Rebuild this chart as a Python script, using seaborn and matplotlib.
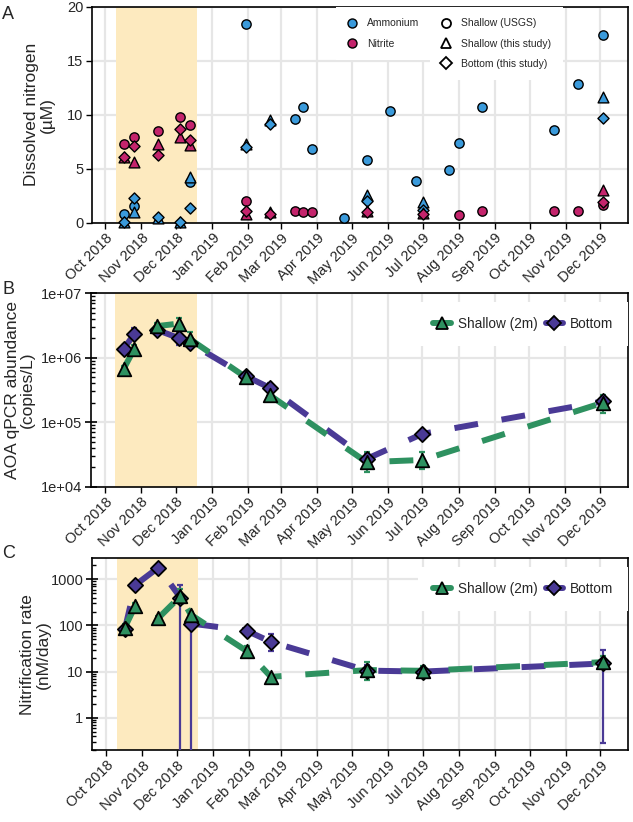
import numpy as np
import pandas as pd
import matplotlib
matplotlib.use("Agg")
import matplotlib.pyplot as plt
import matplotlib.dates as mdates
from matplotlib.lines import Line2D
from matplotlib.ticker import FixedLocator, LogLocator, FuncFormatter, NullFormatter
import seaborn as sns

nan = np.nan

# ---- Panel A: dissolved nitrogen ----
usgs_dates = ["2018-10-17", "2018-10-26", "2018-11-15", "2018-12-04", "2018-12-13",
              "2019-01-30", "2019-03-13", "2019-03-20", "2019-03-28", "2019-04-24",
              "2019-05-14", "2019-06-03", "2019-06-25", "2019-07-24", "2019-08-01",
              "2019-08-21", "2019-10-22", "2019-11-12", "2019-12-03"]
usgs_nh4 = [0.8, 1.5, nan, nan, 3.8, 18.4, 9.6, 10.7, 6.8, 0.4,
            5.8, 10.3, 3.9, 4.9, 7.4, 10.7, 8.6, 12.8, 17.4]
usgs_no2 = [7.3, 7.9, 8.5, 9.8, 9.0, 2.0, 1.05, 1.0, 1.0, nan,
            nan, nan, nan, nan, 0.7, 1.1, 1.1, 1.1, 1.6]

study_dates = ["2018-10-17", "2018-10-26", "2018-11-15", "2018-12-04", "2018-12-13",
               "2019-01-30", "2019-02-20", "2019-05-14", "2019-07-01", "2019-12-03"]
nh4_shallow = [0.05, 1.0, 0.4, 0.05, 4.2, 7.3, 9.5, 2.6, 1.9, 11.6]
nh4_bottom = [0.05, 2.3, 0.5, 0.1, 1.4, 7.0, 9.1, 2.0, 1.2, 9.7]
no2_shallow = [6.1, 5.6, 7.3, 7.9, 7.2, 0.85, 1.0, 1.1, 0.9, 3.0]
no2_bottom = [6.1, 7.1, 6.3, 8.7, 7.7, 1.1, 0.8, 1.0, 0.8, 1.9]

# ---- Panel B: AOA qPCR abundance (copies/L) ----
aoa_shallow = [6.7e5, 1.35e6, 3.1e6, 3.4e6, 1.95e6, 5.0e5, 2.6e5, 2.4e4, 2.6e4, 2.0e5]
aoa_shallow_lo = [5.8e5, 1.15e6, 2.7e6, 2.8e6, 1.5e6, 4.3e5, 2.3e5, 1.7e4, 1.9e4, 1.4e5]
aoa_shallow_hi = [7.5e5, 1.55e6, 3.5e6, 4.1e6, 2.5e6, 5.7e5, 2.9e5, 3.4e4, 3.4e4, 2.6e5]
aoa_bottom = [1.37e6, 2.3e6, 2.7e6, 2.0e6, 1.7e6, 5.2e5, 3.4e5, 2.7e4, 6.6e4, 2.1e5]
aoa_bottom_lo = [1.2e6, 1.9e6, 2.4e6, 1.6e6, 1.4e6, 4.6e5, 2.8e5, 2.2e4, 6.0e4, 1.8e5]
aoa_bottom_hi = [1.55e6, 2.9e6, 3.0e6, 2.5e6, 2.0e6, 5.8e5, 4.1e5, 3.3e4, 7.2e4, 2.4e5]

# ---- Panel C: nitrification rate (nM/day) ----
nit_shallow = [90, 265, 145, 430, 170, 28, 7.7, 10.8, 10.4, 16]
nit_shallow_lo = [75, 220, 130, 300, 140, 22, 7.0, 6.6, 8.5, 12]
nit_shallow_hi = [105, 310, 160, 620, 200, 35, 8.5, 16.4, 13, 22]
nit_bottom = [82, 750, 1800, 400, 110, 77, 44, 10.5, 10.0, 15]
nit_bottom_lo = [70, 700, 1650, 0.01, 0.01, 68, 28, 8, 8, 0.29]
nit_bottom_hi = [95, 800, 1950, 760, 200, 87, 65, 14, 12, 29]

shade_start, shade_end = "2018-10-10", "2018-12-19"
x_min, x_max = "2018-09-19", "2019-12-25"

c_nh4 = "#3A9ADB"
c_no2 = "#C4246C"
c_shallow = "#2E9160"
c_bottom = "#4A3A96"
c_shade = "#FDEABF"

sns.set_style("whitegrid")
plt.rcParams["font.family"] = ["Liberation Sans", "DejaVu Sans"]
plt.rcParams["xtick.labelsize"] = 10.5
plt.rcParams["ytick.labelsize"] = 10.5

usgs_t = pd.to_datetime(usgs_dates)
study_t = pd.to_datetime(study_dates)

fig = plt.figure(figsize=(6.33, 8.22), dpi=100)
W, H = 633.0, 822.0


def make_ax(left, right, top, bottom):
    return fig.add_axes([left / W, 1 - bottom / H, (right - left) / W, (bottom - top) / H])


def style_ax(ax):
    ax.set_axisbelow(True)
    ax.grid(True, which="major", color="#E6E6E6", lw=1.6)
    ax.grid(False, which="minor")
    for sp in ax.spines.values():
        sp.set_color("black")
        sp.set_linewidth(1.2)
        sp.set_visible(True)
    ax.axvspan(pd.Timestamp(shade_start), pd.Timestamp(shade_end), color=c_shade, lw=0, zorder=1)
    ax.set_xlim(pd.Timestamp(x_min), pd.Timestamp(x_max))
    ax.xaxis.set_major_locator(mdates.MonthLocator(bymonthday=1))
    ax.xaxis.set_major_formatter(mdates.DateFormatter("%b %Y"))
    ax.tick_params(axis="both", which="major", direction="out", length=4, width=1, color="black",
                   bottom=True, left=True, pad=2)
    for lab in ax.get_xticklabels():
        lab.set_rotation(45)
        lab.set_ha("right")
        lab.set_rotation_mode("anchor")


# ---------------- A ----------------
axA = make_ax(91.5, 628.3, 6.7, 222.7)
style_ax(axA)
pt_kw = dict(edgecolor="black", linewidth=1.0, legend=False, ax=axA, zorder=3, clip_on=False)
sns.scatterplot(x=usgs_t, y=usgs_nh4, color=c_nh4, marker="o", s=45, **pt_kw)
sns.scatterplot(x=study_t, y=nh4_shallow, color=c_nh4, marker="^", s=60, **pt_kw)
sns.scatterplot(x=study_t, y=nh4_bottom, color=c_nh4, marker="D", s=32, **pt_kw)
sns.scatterplot(x=usgs_t, y=usgs_no2, color=c_no2, marker="o", s=45, **pt_kw)
sns.scatterplot(x=study_t, y=no2_shallow, color=c_no2, marker="^", s=60, **pt_kw)
sns.scatterplot(x=study_t, y=no2_bottom, color=c_no2, marker="D", s=32, **pt_kw)
axA.set_ylim(0, 20)
axA.set_yticks([0, 5, 10, 15, 20])
axA.set_xlabel("")
axA.set_ylabel("Dissolved nitrogen\n(\u00b5M)", fontsize=12.5, linespacing=1.05)
axA.yaxis.set_label_coords(-0.068, 0.5)

col_handles = [Line2D([], [], ls="none", marker="o", ms=6.5, mfc=c_nh4, mec="black", mew=1.0),
               Line2D([], [], ls="none", marker="o", ms=6.5, mfc=c_no2, mec="black", mew=1.0)]
leg1 = axA.legend(col_handles, ["Ammonium", "Nitrite"], loc="upper left",
                  bbox_to_anchor=(0.455, 1.0), frameon=True, facecolor="white", edgecolor="none",
                  framealpha=1, fancybox=False, fontsize=7.5, handlelength=1.0,
                  handletextpad=0.9, labelspacing=1.0, borderpad=1.1, borderaxespad=0)
axA.add_artist(leg1)
shp_handles = [Line2D([], [], ls="none", marker="o", ms=6.5, mfc="white", mec="black", mew=1.3),
               Line2D([], [], ls="none", marker="^", ms=7.5, mfc="white", mec="black", mew=1.3),
               Line2D([], [], ls="none", marker="D", ms=5.8, mfc="white", mec="black", mew=1.3)]
axA.legend(shp_handles, ["Shallow (USGS)", "Shallow (this study)", "Bottom (this study)"],
           loc="upper left", bbox_to_anchor=(0.63, 1.0), frameon=True, facecolor="white",
           edgecolor="none", framealpha=1, fancybox=False, fontsize=7.5, handlelength=1.0,
           handletextpad=0.9, labelspacing=1.0, borderpad=1.1, borderaxespad=0)


def rate_panel(ax, sh, sh_lo, sh_hi, bo, bo_lo, bo_hi):
    dash = (0, (4, 4))
    sns.lineplot(x=study_t, y=bo, color=c_bottom, linewidth=4.3, linestyle=dash,
                 legend=False, errorbar=None, ax=ax, zorder=2)
    sns.lineplot(x=study_t, y=sh, color=c_shallow, linewidth=4.3, linestyle=dash,
                 legend=False, errorbar=None, ax=ax, zorder=2)
    bo, bo_lo, bo_hi = map(np.asarray, (bo, bo_lo, bo_hi))
    sh, sh_lo, sh_hi = map(np.asarray, (sh, sh_lo, sh_hi))
    ax.errorbar(study_t, bo, yerr=[bo - bo_lo, bo_hi - bo], fmt="none", ecolor=c_bottom,
                elinewidth=1.6, capsize=2, capthick=1.6, zorder=3)
    ax.errorbar(study_t, sh, yerr=[sh - sh_lo, sh_hi - sh], fmt="none", ecolor=c_shallow,
                elinewidth=1.6, capsize=2, capthick=1.6, zorder=3)
    sns.scatterplot(x=study_t, y=bo, color=c_bottom, marker="D", s=60, edgecolor="black",
                    linewidth=1.3, legend=False, ax=ax, zorder=4)
    sns.scatterplot(x=study_t, y=sh, color=c_shallow, marker="^", s=95, edgecolor="black",
                    linewidth=1.3, legend=False, ax=ax, zorder=5)
    ax.set_xlabel("")
    ax.set_yscale("log")
    ax.yaxis.set_minor_locator(LogLocator(base=10, subs=np.arange(2, 10)))
    ax.yaxis.set_minor_formatter(NullFormatter())
    ax.tick_params(axis="y", which="minor", direction="in", length=3, width=1, color="black", left=True)
    ax.tick_params(axis="y", which="major", direction="inout", length=9, width=1.2, left=True)
    handles = [Line2D([], [], color=c_shallow, lw=4.3, marker="^", ms=9, mfc=c_shallow, mec="black", mew=1.3),
               Line2D([], [], color=c_bottom, lw=4.3, marker="D", ms=7, mfc=c_bottom, mec="black", mew=1.3)]
    ax.legend(handles, ["Shallow (2m)", "Bottom"], loc="upper right", bbox_to_anchor=(1.0, 0.955),
              ncol=2, frameon=True, facecolor="white", edgecolor="none", framealpha=1,
              fancybox=False, fontsize=9.8, handlelength=1.3, handletextpad=0.5,
              columnspacing=0.6, borderpad=1.1, borderaxespad=0)


# ---------------- B ----------------
axB = make_ax(91.0, 628.3, 293.3, 486.7)
style_ax(axB)
rate_panel(axB, aoa_shallow, aoa_shallow_lo, aoa_shallow_hi, aoa_bottom, aoa_bottom_lo, aoa_bottom_hi)
axB.set_ylim(1e4, 1e7)
axB.yaxis.set_major_locator(FixedLocator([1e4, 1e5, 1e6, 1e7]))
axB.yaxis.set_major_formatter(FuncFormatter(lambda v, _: f"{v:.0e}"))
axB.set_ylabel("AOA qPCR abundance\n(copies/L)", fontsize=12.5, linespacing=1.05)
axB.yaxis.set_label_coords(-0.104, 0.5)

# ---------------- C ----------------
axC = make_ax(92.3, 628.3, 558.3, 750.0)
style_ax(axC)
rate_panel(axC, nit_shallow, nit_shallow_lo, nit_shallow_hi, nit_bottom, nit_bottom_lo, nit_bottom_hi)
axC.set_ylim(0.2, 2850)
axC.yaxis.set_major_locator(FixedLocator([1, 10, 100, 1000]))
axC.yaxis.set_major_formatter(FuncFormatter(lambda v, _: f"{v:g}"))
axC.set_ylabel("Nitrification rate\n(nM/day)", fontsize=12.5, linespacing=1.05)
axC.yaxis.set_label_coords(-0.078, 0.5)

for lab, ypix in [("A", 6), ("B", 281), ("C", 545)]:
    fig.text(2 / W, 1 - ypix / H, lab, fontsize=13, va="top", ha="left")

fig.savefig("out.png", dpi=100)
